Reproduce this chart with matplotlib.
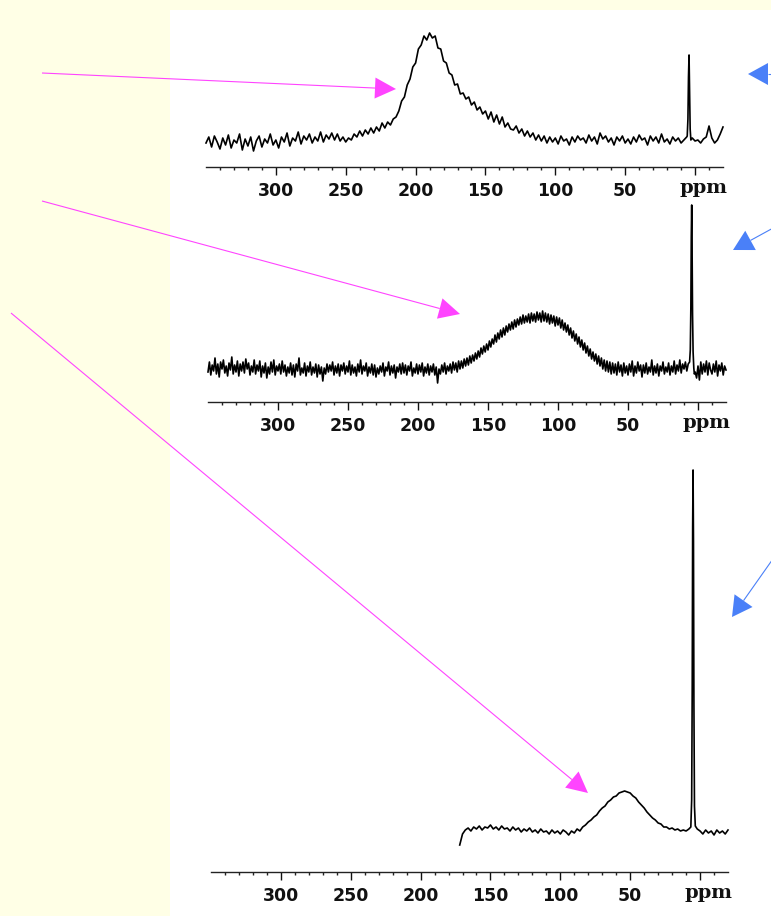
import numpy as np
import matplotlib
matplotlib.use("Agg")
import matplotlib.pyplot as plt
from matplotlib.patches import Polygon, Rectangle
from matplotlib.transforms import offset_copy

# ---------------- data (intensities) ----------------
p1_ppm = np.arange(350, -21, -2)
p1_vals = [
    24, 30, 20, 31, 25, 18, 29, 22, 32, 19,
    27, 24, 33, 17, 28, 21, 30, 16, 26, 31,
    20, 28, 24, 33, 22, 27, 19, 30, 25, 34,
    21, 29, 26, 35, 23, 31, 27, 33, 24, 30,
    26, 35, 25, 32, 28, 34, 27, 33, 26, 30,
    25, 29, 27, 33, 30, 36, 31, 37, 33, 39,
    34, 40, 36, 44, 39, 45, 42, 48, 50, 56,
    66, 70, 82, 88, 100, 104, 118, 122, 131, 127,
    134, 129, 131, 119, 118, 106, 104, 94, 92, 82,
    83, 73, 74, 68, 70, 62, 65, 57, 60, 53,
    56, 48, 55, 45, 52, 43, 50, 40, 44, 38,
    37, 41, 34, 38, 31, 36, 30, 34, 27, 32,
    26, 31, 24, 30, 25, 29, 23, 31, 26, 28,
    22, 30, 25, 31, 27, 29, 24, 32, 26, 30,
    23, 34, 28, 31, 25, 29, 22, 30, 26, 31,
    24, 28, 23, 30, 25, 32, 27, 29, 22, 31,
    26, 30, 24, 33, 25, 28, 23, 30, 26, 29,
    24, 27, 30, 32, 29, 26, 27, 24, 28, 30,
    41, 29, 24, 27, 33, 40,
]
p1_peak_ppm = [5.6, 5.1, 4.7, 4.3, 3.9, 3.5, 3.0]
p1_peak_vals = [31, 48, 90, 112, 78, 38, 27]

p2_ppm = np.arange(350, -21, -1)
p2_vals = [
    30, 40, 27, 37, 31, 44, 28, 38, 25, 40,
    33, 42, 29, 36, 26, 39, 32, 45, 28, 37,
    30, 41, 26, 38, 31, 40, 29, 43, 33, 39,
    27, 36, 30, 42, 28, 37, 31, 41, 25, 36,
    29, 39, 24, 35, 28, 40, 30, 42, 27, 36,
    31, 38, 28, 41, 30, 37, 26, 35, 29, 39,
    27, 37, 25, 38, 31, 44, 27, 34, 29, 39,
    26, 36, 30, 40, 27, 35, 29, 38, 25, 37,
    28, 35, 21, 34, 28, 38, 30, 37, 31, 40,
    27, 36, 29, 38, 26, 37, 31, 39, 28, 36,
    30, 41, 27, 37, 29, 35, 26, 38, 30, 42,
    28, 36, 31, 39, 26, 35, 29, 38, 27, 37,
    25, 34, 28, 36, 30, 39, 26, 35, 31, 40,
    27, 36, 29, 37, 24, 35, 30, 38, 28, 39,
    29, 37, 27, 36, 31, 40, 26, 34, 29, 38,
    28, 37, 30, 39, 26, 35, 29, 38, 27, 36,
    30, 38, 27, 35, 19, 33, 28, 37, 30, 39,
    28, 36, 31, 38, 29, 40, 32, 39, 30, 41,
    33, 41, 34, 43, 36, 44, 37, 46, 39, 47,
    41, 49, 43, 51, 45, 54, 48, 56, 50, 58,
    52, 61, 55, 63, 58, 67, 60, 69, 63, 72,
    65, 74, 67, 76, 70, 78, 72, 80, 73, 82,
    75, 83, 77, 85, 78, 87, 79, 86, 80, 88,
    79, 89, 81, 88, 80, 90, 82, 89, 80, 91,
    81, 89, 80, 88, 78, 87, 79, 86, 76, 85,
    77, 84, 74, 82, 72, 79, 70, 77, 67, 74,
    64, 71, 61, 68, 58, 65, 55, 62, 52, 59,
    49, 56, 46, 53, 43, 50, 41, 48, 38, 46,
    36, 44, 33, 42, 31, 41, 30, 40, 28, 39,
    29, 38, 27, 40, 30, 37, 26, 39, 29, 36,
    27, 38, 30, 41, 26, 36, 29, 40, 31, 37,
    25, 37, 29, 39, 28, 35, 30, 42, 27, 36,
    29, 38, 26, 36, 31, 40, 28, 35, 30, 39,
    27, 36, 30, 41, 28, 37, 31, 42, 29, 38,
    33, 40, 31, 38, 40, 45, 60, 60, 30, 24,
    36, 22, 40, 28, 38, 30, 41, 27, 39, 32,
    28, 38, 30, 41, 26, 37, 31, 39, 27, 36,
    32,
]
p2_peak_ppm = [6.0, 5.5, 5.1, 4.8, 4.5, 4.2, 3.9, 3.5, 3.0, 2.6]
p2_peak_vals = [40, 52, 95, 165, 197, 150, 88, 50, 34, 28]

p3_ppm = np.arange(172, -21, -2)
p3_vals = [
    27, 38, 42, 44, 41, 45, 43, 46, 42, 45,
    44, 47, 43, 45, 42, 46, 43, 44, 41, 45,
    42, 44, 40, 43, 41, 44, 40, 42, 39, 43,
    40, 41, 38, 42, 39, 41, 38, 42, 40, 37,
    41, 39, 43, 41, 45, 47, 50, 52, 55, 57,
    61, 64, 66, 70, 72, 75, 76, 79, 80, 81,
    80, 79, 76, 74, 70, 67, 64, 60, 57, 54,
    52, 49, 48, 45, 45, 43, 44, 42, 43, 41,
    42, 41, 43, 44, 44, 43, 41, 38, 42, 39,
    41, 37, 42, 39, 41, 38, 42,
]
p3_peak_ppm = [6.6, 6.0, 5.6, 5.3, 5.0, 4.7, 4.4, 4.0, 3.4]
p3_peak_vals = [45, 72, 185, 345, 402, 330, 170, 66, 46]

major_ticks = [300, 250, 200, 150, 100, 50, 0]
major_labels = ["300", "250", "200", "150", "100", "50", ""]
unit_label = "ppm"

# ---------------- figure ----------------
W, H = 771, 916
fig = plt.figure(figsize=(W / 100, H / 100), dpi=100, facecolor="#FFFFE6")

bg = fig.add_axes([0, 0, 1, 1], zorder=0)
bg.set_xlim(0, W)
bg.set_ylim(H, 0)
bg.axis("off")
bg.add_patch(Rectangle((170, 10), 601, 906, facecolor="white", edgecolor="none"))


def combine(ppm, vals, pk_ppm, pk_vals):
    ppm = np.asarray(ppm, float)
    vals = np.asarray(vals, float)
    assert len(ppm) == len(vals), (len(ppm), len(vals))
    lo, hi = min(pk_ppm), max(pk_ppm)
    keep = (ppm < lo - 0.05) | (ppm > hi + 0.05)
    x = np.concatenate([ppm[keep], pk_ppm])
    y = np.concatenate([vals[keep], pk_vals])
    o = np.argsort(-x)
    return x[o], y[o]


def panel(x0, x1, axis_y, top_y, ppm, vals, pk_ppm, pk_vals, lw):
    ax = fig.add_axes([x0 / W, (H - axis_y) / H, (x1 - x0) / W, (axis_y - top_y) / H], zorder=2)
    ax.patch.set_alpha(0)
    ax.set_xlim(350, -20)
    ax.set_ylim(0, axis_y - top_y)
    for s in ["top", "right", "left"]:
        ax.spines[s].set_visible(False)
    ax.spines["bottom"].set_linewidth(1.0)
    ax.spines["bottom"].set_color("#222222")
    ax.set_yticks([])
    ax.set_xticks(major_ticks)
    ax.set_xticklabels(major_labels, fontweight="bold", fontsize=12.5, family="DejaVu Sans")
    ax.set_xticks(np.arange(340, -20, -10), minor=True)
    ax.tick_params(axis="x", which="major", length=6, width=1.0, direction="out", pad=4.5, colors="#111111")
    ax.tick_params(axis="x", which="minor", length=2.5, width=1.0, direction="out", colors="#222222")
    x, y = combine(ppm, vals, pk_ppm, pk_vals)
    ax.plot(x, y, color="black", lw=lw, clip_on=False, solid_joinstyle="round")
    tr = offset_copy(ax.get_xaxis_transform(), fig=fig, x=0, y=-26, units="dots")
    ax.text(-6, 0, unit_label, transform=tr, ha="center", va="baseline",
            family="DejaVu Serif", fontweight="bold", fontsize=14, color="#111111")
    return ax


panel(206, 723, 167, 20, p1_ppm, p1_vals, p1_peak_ppm, p1_peak_vals, 1.2)
panel(208, 726, 402, 190, p2_ppm, p2_vals, p2_peak_ppm, p2_peak_vals, 1.2)
panel(211, 728, 872, 460, p3_ppm, p3_vals, p3_peak_ppm, p3_peak_vals, 1.2)

# ---------------- arrows (annotations) ----------------
ov = fig.add_axes([0, 0, 1, 1], zorder=5)
ov.set_xlim(0, W)
ov.set_ylim(H, 0)
ov.axis("off")
ov.patch.set_alpha(0)


def arrow(tail, tip, color, lw, hl, hw):
    tx, ty = tail
    px, py = tip
    d = np.hypot(px - tx, py - ty)
    ux, uy = (px - tx) / d, (py - ty) / d
    bx, by = px - ux * hl, py - uy * hl
    nx, ny = -uy, ux
    ov.plot([tx, bx], [ty, by], color=color, lw=lw, solid_capstyle="butt")
    ov.add_patch(Polygon([[px, py], [bx + nx * hw / 2, by + ny * hw / 2],
                          [bx - nx * hw / 2, by - ny * hw / 2]],
                         closed=True, facecolor=color, edgecolor="none"))


MAG = "#FF44FF"
BLUE = "#4A80F8"
arrow((42, 73), (396, 89), MAG, 0.8, 21, 21)
arrow((42, 201), (460, 314), MAG, 0.8, 21, 21)
arrow((11, 313), (588, 793), MAG, 0.8, 21, 21)
arrow((775, 74), (748, 74), BLUE, 0.8, 20, 22)
arrow((775, 227), (733, 250), BLUE, 0.8, 20, 22)
arrow((775, 556), (732, 617), BLUE, 0.8, 20, 22)

fig.savefig("out.png", dpi=100, facecolor=fig.get_facecolor())
